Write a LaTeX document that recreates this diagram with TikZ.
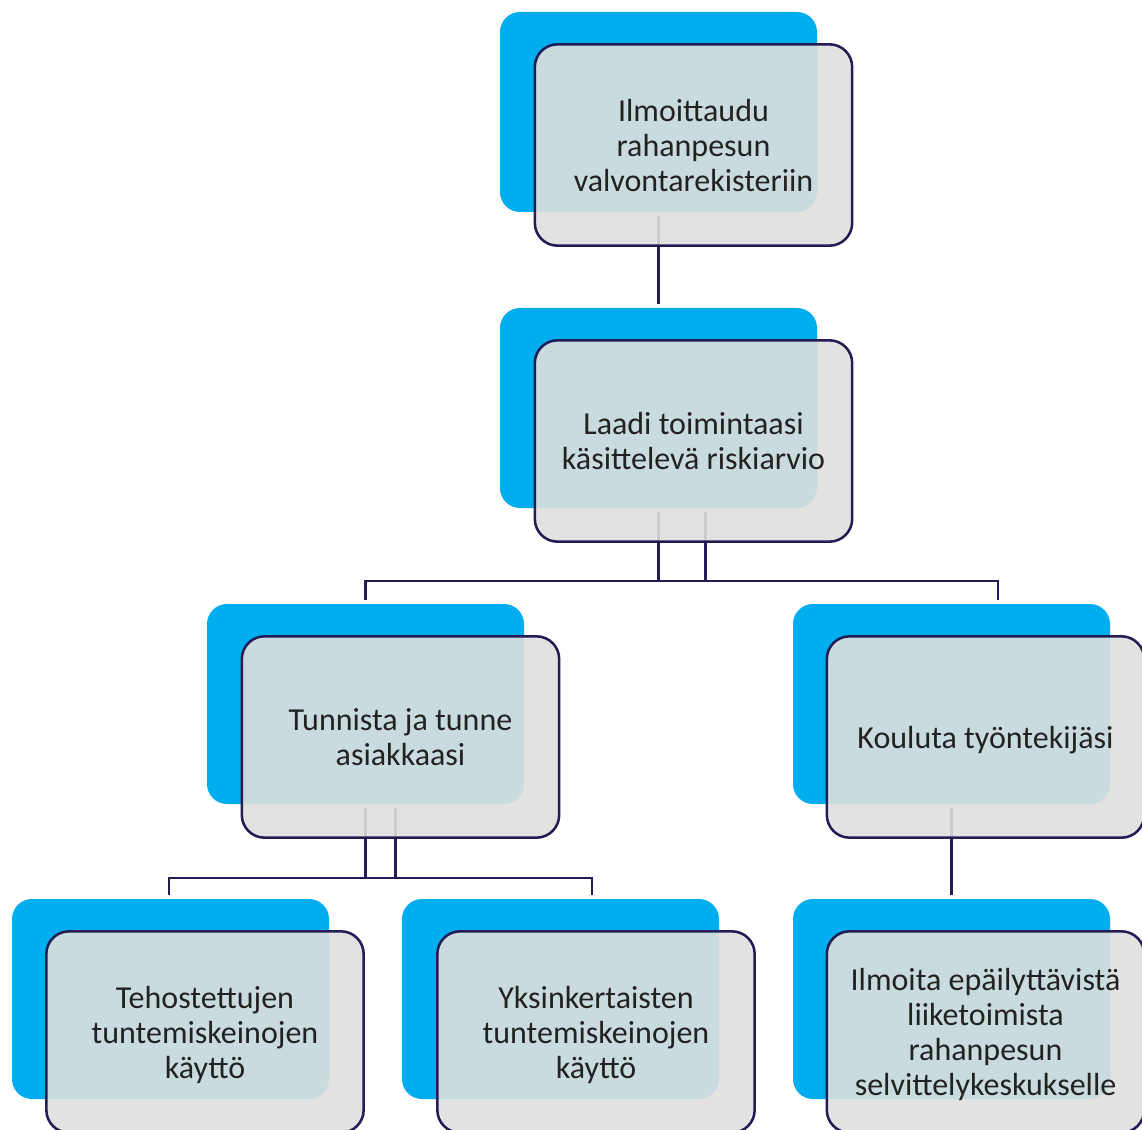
\documentclass[tikz,border=0pt]{standalone}
\usepackage{fontspec}
\setmainfont{Carlito}
\usetikzlibrary{calc}
\definecolor{cyanb}{HTML}{00AEEF}
\definecolor{navy}{HTML}{241C55}
\definecolor{fgrey}{HTML}{DFE0DD}
\definecolor{txt}{HTML}{222222}
\begin{document}
\begin{tikzpicture}[x=0.75pt,y=-0.75pt,
  backbox/.style={fill=cyanb, rounded corners=15pt, minimum width=237.75pt, minimum height=150pt, inner sep=0pt, draw=none},
  frontbox/.style={fill=fgrey, fill opacity=0.9, text opacity=1, draw=navy, line width=1.9pt, rounded corners=17pt, minimum width=238pt, minimum height=151pt, align=center, text=txt, font=\fontsize{24}{26.25}\selectfont, inner sep=0pt, text depth=0pt},
  conn/.style={draw=navy, line width=1.7pt, shorten <=2.5pt, shorten >=3pt}]
\useasboundingbox (0,0) rectangle (1142,1130);
\fill[white] (0,0) rectangle (1142,1130);
% back (blue) boxes
\node[backbox] (b1) at (658.5,112) {};
\node[backbox] (b2) at (658.5,408) {};
\node[backbox] (b3) at (365.5,704) {};
\node[backbox] (b4) at (951.5,704) {};
\node[backbox] (b5) at (170.5,999) {};
\node[backbox] (b6) at (560.5,999) {};
\node[backbox] (b7) at (951.5,999) {};
% connectors
\draw[conn] (b1.south) -- (b2.north);
\draw[conn] ($(b2.south)+(47,0)$) |- ($(b3.north)+(0,-23)$) -- (b3.north);
\draw[conn] (b2.south) |- ($(b4.north)+(46.5,-23)$) -- ($(b4.north)+(46.5,0)$);
\draw[conn] ($(b3.south)+(30,0)$) |- ($(b5.north)+(-1.5,-21)$) -- ($(b5.north)+(-1.5,0)$);
\draw[conn] (b3.south) |- ($(b6.north)+(31.5,-21)$) -- ($(b6.north)+(31.5,0)$);
\draw[conn] (b4.south) -- (b7.north);
% front boxes
\node[frontbox] (f1) at (693.5,145) {Ilmoittaudu\\rahanpesun\\valvontarekisteriin};
\node[frontbox] (f2) at (693.5,441) {Laadi toimintaasi\\käsittelevä riskiarvio};
\node[frontbox] (f3) at (400.5,737) {Tunnista ja tunne\\asiakkaasi};
\node[frontbox] (f4) at (985.5,737) {Kouluta työntekijäsi};
\node[frontbox] (f5) at (205,1032) {Tehostettujen\\tuntemiskeinojen\\käyttö};
\node[frontbox] (f6) at (596,1032) {Yksinkertaisten\\tuntemiskeinojen\\käyttö};
\node[frontbox] (f7) at (985.5,1032) {Ilmoita epäilyttävistä\\liiketoimista\\rahanpesun\\selvittelykeskukselle};
\end{tikzpicture}
\end{document}
